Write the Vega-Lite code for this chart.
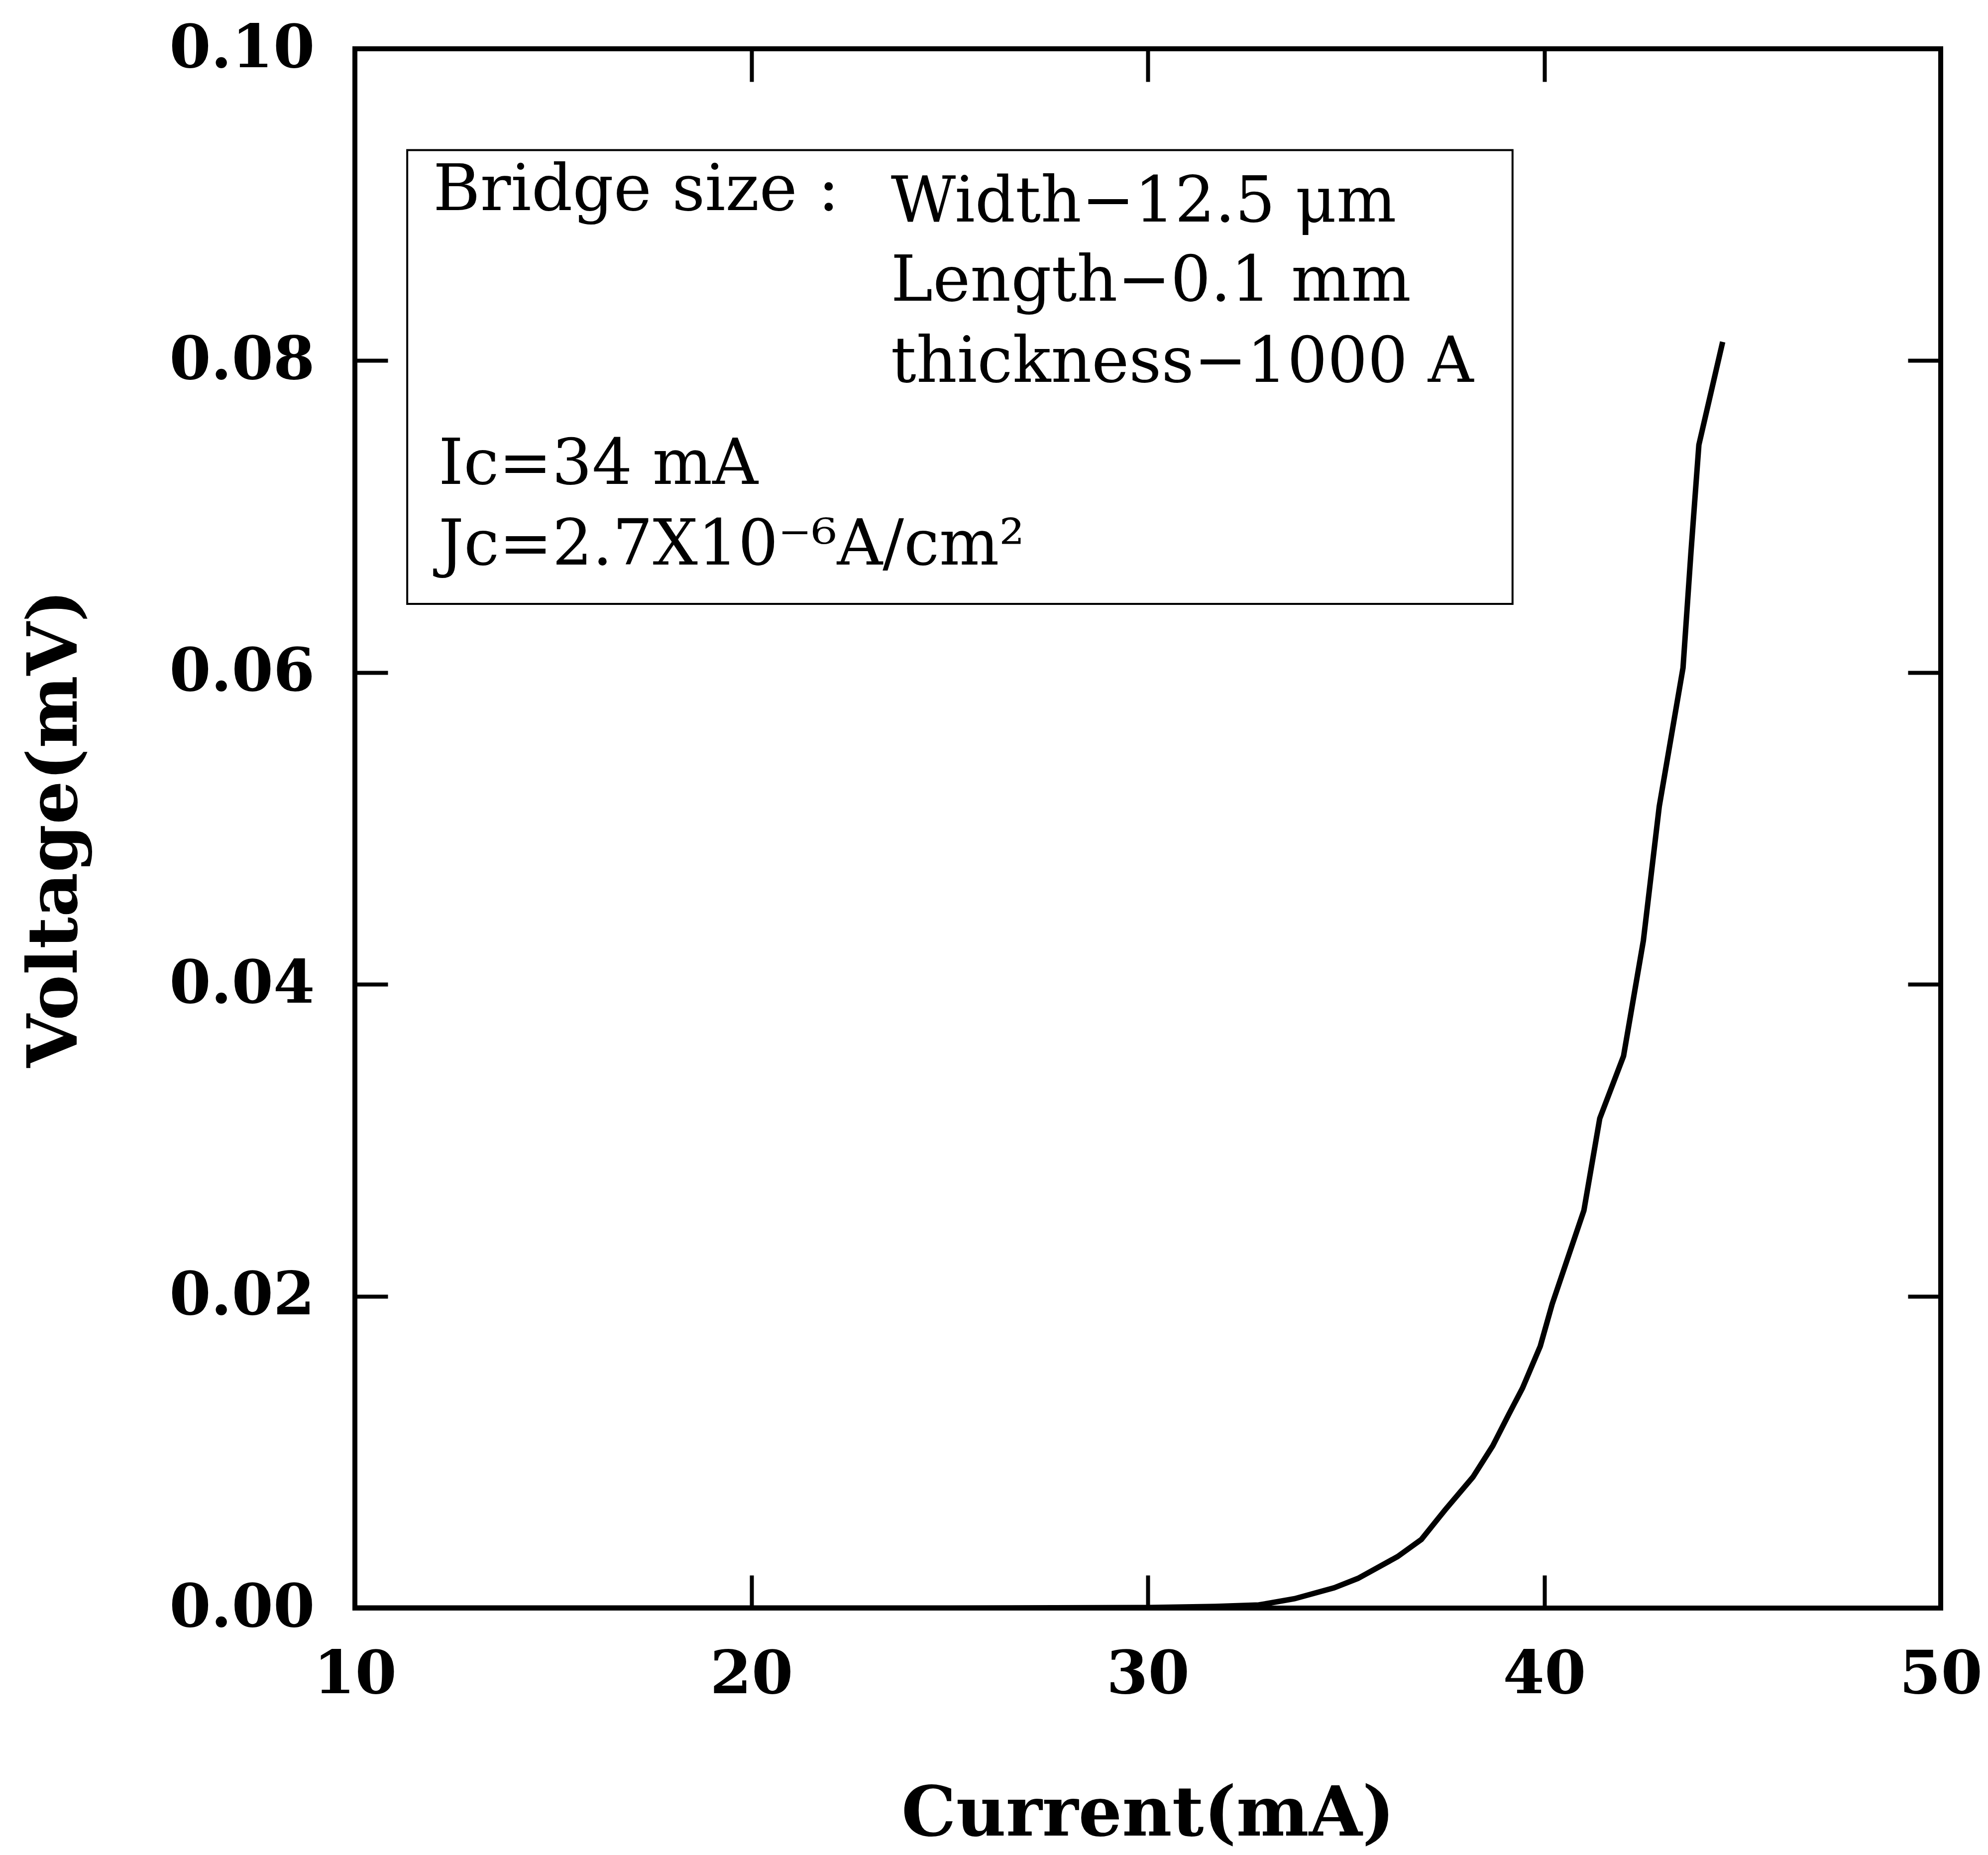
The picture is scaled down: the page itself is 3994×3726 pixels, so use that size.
{
  "$schema": "https://vega.github.io/schema/vega-lite/v6.json",
  "width": 3186,
  "height": 3132,
  "autosize": {"type": "none"},
  "padding": {"left": 713, "top": 98, "right": 95, "bottom": 496},
  "background": "white",
  "config": {
    "view": {"stroke": "black", "strokeWidth": 10},
    "axis": {
      "grid": false,
      "domain": false,
      "tickColor": "black",
      "tickWidth": 8,
      "tickSize": -66,
      "labelFont": "DejaVu Serif",
      "labelFontWeight": "bold",
      "labelFontSize": 120,
      "labelColor": "black",
      "labelLimit": 2000,
      "labelFlush": false,
      "labelOverlap": false,
      "labelBound": false,
      "titleFont": "DejaVu Serif",
      "titleFontWeight": "bold",
      "titleFontSize": 138,
      "titleColor": "black",
      "titleLimit": 4000
    }
  },
  "data": {
    "values": [
      {"current": 10, "voltage": 0},
      {"current": 15, "voltage": 0},
      {"current": 20, "voltage": 0},
      {"current": 25, "voltage": 0},
      {"current": 30, "voltage": 0.00003},
      {"current": 31.7, "voltage": 0.0001},
      {"current": 32.8, "voltage": 0.0002},
      {"current": 33.7, "voltage": 0.0006},
      {"current": 34.7, "voltage": 0.0013},
      {"current": 35.3, "voltage": 0.0019},
      {"current": 36.3, "voltage": 0.0033},
      {"current": 36.9, "voltage": 0.0044},
      {"current": 37.5, "voltage": 0.0063},
      {"current": 38.2, "voltage": 0.0084},
      {"current": 38.7, "voltage": 0.0104},
      {"current": 39.1, "voltage": 0.0124},
      {"current": 39.45, "voltage": 0.0141},
      {"current": 39.9, "voltage": 0.0168},
      {"current": 40.2, "voltage": 0.0195},
      {"current": 40.6, "voltage": 0.0225},
      {"current": 41.0, "voltage": 0.0255},
      {"current": 41.4, "voltage": 0.0314},
      {"current": 42.0, "voltage": 0.0354},
      {"current": 42.5, "voltage": 0.0428},
      {"current": 42.9, "voltage": 0.0514},
      {"current": 43.5, "voltage": 0.0603},
      {"current": 43.7, "voltage": 0.0677},
      {"current": 43.9, "voltage": 0.0746},
      {"current": 44.5, "voltage": 0.0812}
    ]
  },
  "resolve": {"axis": {"x": "independent", "y": "independent"}},
  "layer": [
    {
      "mark": {"type": "line", "color": "black", "strokeWidth": 11, "clip": true},
      "encoding": {
        "x": {
          "field": "current", "type": "quantitative",
          "scale": {"domain": [10, 50], "nice": false, "zero": false},
          "axis": {
            "orient": "bottom", "values": [10, 20, 30, 40, 50], "format": "d",
            "labelPadding": 141, "labelBaseline": "top",
            "title": "Current(mA)", "titleBaseline": "alphabetic", "titleY": 456, "titlePadding": 0
          }
        },
        "y": {
          "field": "voltage", "type": "quantitative",
          "scale": {"domain": [0, 0.1], "nice": false},
          "axis": {
            "orient": "left", "values": [0, 0.02, 0.04, 0.06, 0.08, 0.1], "format": ".2f",
            "labelPadding": 147, "labelAlign": "right", "labelBaseline": "middle",
            "title": "Voltage(mV)", "titleBaseline": "alphabetic", "titleX": -560, "titleY": 1566, "titleAngle": -90
          }
        }
      }
    },
    {
      "data": {"values": [{}]},
      "mark": {"type": "rect", "fillOpacity": 0, "stroke": "black", "strokeWidth": 4},
      "encoding": {
        "x": {"datum": 11.32, "type": "quantitative",
          "axis": {"orient": "top", "values": [20, 30, 40], "labels": false, "title": null}},
        "x2": {"datum": 39.2},
        "y": {"datum": 0.0644, "type": "quantitative",
          "axis": {"orient": "right", "values": [0.02, 0.04, 0.06, 0.08], "labels": false, "title": null}},
        "y2": {"datum": 0.0935}
      }
    },
    {
      "data": {"values": [{}]},
      "mark": {"type": "text", "align": "left", "baseline": "alphabetic", "font": "DejaVu Serif", "fontSize": 129, "color": "black", "text": "Bridge size :"},
      "encoding": {
        "x": {"datum": 11.97, "type": "quantitative", "axis": null},
        "y": {"datum": 0.08966, "type": "quantitative", "axis": null}
      }
    },
    {
      "data": {"values": [{}]},
      "mark": {"type": "text", "align": "left", "baseline": "alphabetic", "font": "DejaVu Serif", "fontSize": 127, "color": "black", "text": "Width−12.5 μm"},
      "encoding": {
        "x": {"datum": 23.52, "type": "quantitative", "axis": null},
        "y": {"datum": 0.08892, "type": "quantitative", "axis": null}
      }
    },
    {
      "data": {"values": [{}]},
      "mark": {"type": "text", "align": "left", "baseline": "alphabetic", "font": "DejaVu Serif", "fontSize": 127, "color": "black", "text": "Length−0.1 mm"},
      "encoding": {
        "x": {"datum": 23.52, "type": "quantitative", "axis": null},
        "y": {"datum": 0.08384, "type": "quantitative", "axis": null}
      }
    },
    {
      "data": {"values": [{}]},
      "mark": {"type": "text", "align": "left", "baseline": "alphabetic", "font": "DejaVu Serif", "fontSize": 127, "color": "black", "text": "thickness−1000 A"},
      "encoding": {
        "x": {"datum": 23.52, "type": "quantitative", "axis": null},
        "y": {"datum": 0.07864, "type": "quantitative", "axis": null}
      }
    },
    {
      "data": {"values": [{}]},
      "mark": {"type": "text", "align": "left", "baseline": "alphabetic", "font": "DejaVu Serif", "fontSize": 127, "color": "black", "text": "Ic=34 mA"},
      "encoding": {
        "x": {"datum": 12.11, "type": "quantitative", "axis": null},
        "y": {"datum": 0.07209, "type": "quantitative", "axis": null}
      }
    },
    {
      "data": {"values": [{}]},
      "mark": {"type": "text", "align": "left", "baseline": "alphabetic", "font": "DejaVu Serif", "fontSize": 127, "color": "black", "text": "Jc=2.7X10⁻⁶A/cm²"},
      "encoding": {
        "x": {"datum": 12.11, "type": "quantitative", "axis": null},
        "y": {"datum": 0.06692, "type": "quantitative", "axis": null}
      }
    }
  ]
}
